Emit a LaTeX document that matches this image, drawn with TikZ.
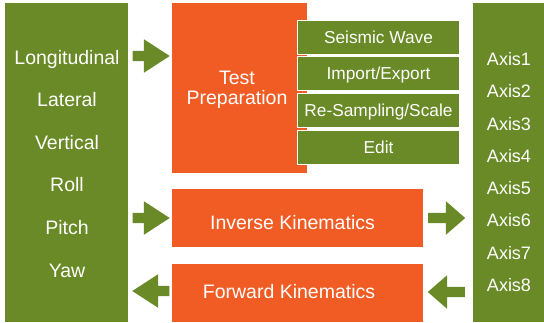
\documentclass[tikz,border=0pt]{standalone}
\usepackage{fontspec}
\setmainfont{Liberation Sans}
\usetikzlibrary{shapes.arrows}
\definecolor{GreenClr}{RGB}{105,138,38}
\definecolor{OrangeClr}{RGB}{240,92,36}

\begin{document}
\begin{tikzpicture}[x=1pt,y=-1pt,
  gbox/.style={fill=GreenClr,inner sep=0pt},
  obox/.style={fill=OrangeClr,inner sep=0pt},
  sbox/.style={fill=GreenClr,draw=white,line width=1pt,minimum width=162pt,minimum height=34pt,
    inner sep=0pt,text=white,font=\fontsize{17.3}{20}\selectfont,text height=12.4pt,text depth=0pt},
  lbl/.style={text=white,font=\fontsize{19.5}{20}\selectfont,inner sep=0pt,text height=14pt,text depth=0pt},
  axlbl/.style={lbl,font=\fontsize{18}{20}\selectfont,text height=12.9pt},
  blk/.style={single arrow,fill=GreenClr,inner xsep=0pt,inner ysep=5pt,text height=0pt,text depth=0pt,
    minimum width=33pt,minimum height=37pt,single arrow head extend=11.5pt,anchor=tail}]
\useasboundingbox (0,0) rectangle (544,322);

% columns
\node[gbox,minimum width=123pt,minimum height=319pt] (dof) at (66.5,162.5) {};
\node[gbox,minimum width=71pt,minimum height=319pt] (axes) at (508.5,162.5) {};

\foreach \name [count=\i] in {Longitudinal,Lateral,Vertical,Roll,Pitch,Yaw}
  \node[lbl] (dof\i) at (67,{57+42.6*(\i-1)}) {\name};
\foreach \i in {1,...,8}
  \node[axlbl] (ax\i) at (509,{59+32.3*(\i-1)}) {Axis\i};

% middle blocks
\node[obox,minimum width=135pt,minimum height=170pt] (prep) at (239.5,88) {};
\node[lbl,align=center] (preplbl) at (237,97) {Test\\Preparation};

\foreach \name [count=\i] in {Seismic Wave,Import/Export,Re-Sampling/Scale,Edit}
  \node[sbox] (sub\i) at (378.5,{37+36.7*(\i-1)}) {\name};

\node[obox,minimum width=251pt,minimum height=58pt] (ik) at (297.5,218) {};
\node[lbl] (iklbl) at (292.5,222) {Inverse Kinematics};
\node[obox,minimum width=251pt,minimum height=58pt] (fk) at (297.5,293) {};
\node[lbl] (fklbl) at (289,291.5) {Forward Kinematics};

% arrows
\node[blk,single arrow tip angle=66] (a1) at (132.5,56) {};
\node[blk,single arrow tip angle=66] (a2) at (132.5,218) {};
\node[blk,single arrow tip angle=66,shape border rotate=180] (a3) at (169.5,291) {};
\node[blk,single arrow tip angle=82] (a4) at (428,218) {};
\node[blk,single arrow tip angle=82,shape border rotate=180] (a5) at (465,292) {};

\end{tikzpicture}
\end{document}
